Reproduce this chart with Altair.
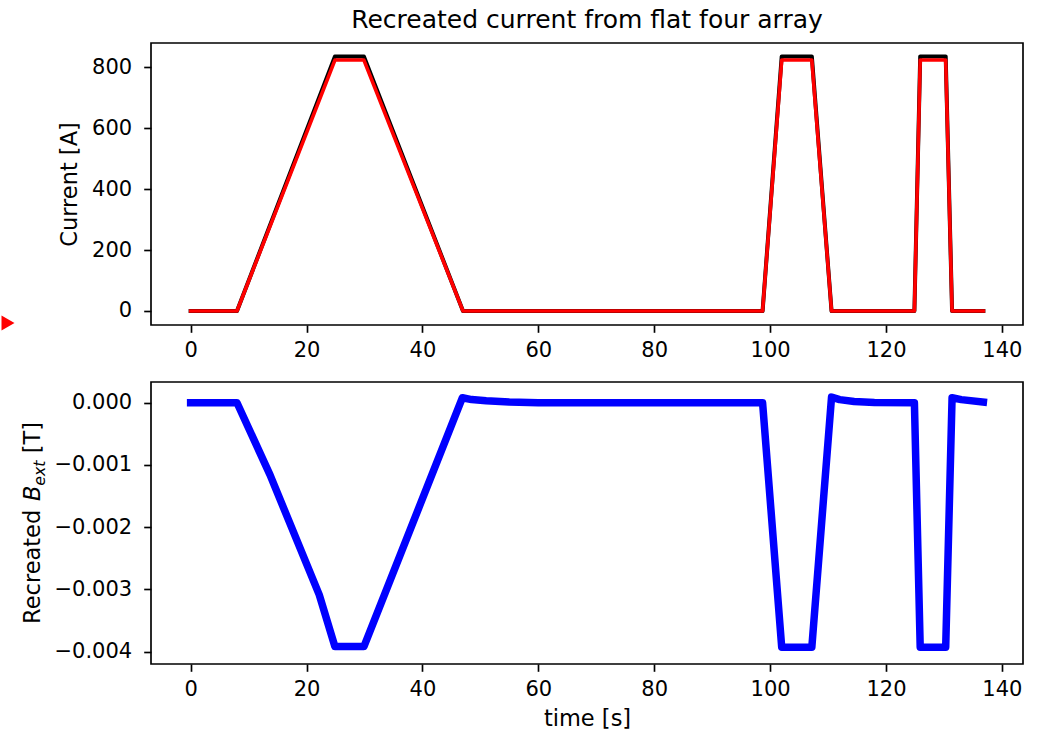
import altair as alt
import pandas as pd

# ---------------- data ----------------
# top panel: coil currents [A]
t_current = [0.0, 8.0, 24.9, 29.9, 47.0, 98.7, 102.0, 107.2, 110.6, 124.9, 125.9, 130.3, 131.4, 136.8]
current_black = [0, 0, 836, 836, 0, 0, 836, 836, 0, 0, 836, 836, 0, 0]
current_red = [0, 0, 824, 824, 0, 0, 824, 824, 0, 0, 824, 824, 0, 0]

# bottom panel: recreated external field [T]
t_field = [0.0, 8.0, 13.7, 22.2, 24.9, 29.9, 46.9, 48.5, 51.0, 55.0, 60.0,
           98.7, 102.0, 107.2, 110.6, 112.0, 114.5, 118.0, 124.9,
           125.9, 130.3, 131.4, 133.0, 136.8]
b_field = [0.0, 0.0, -0.00116, -0.00309, -0.00392, -0.00392, 0.00008, 0.00005, 0.00003, 0.00001, 0.0,
           0.0, -0.00393, -0.00393, 0.00009, 0.00005, 0.00002, 0.000005, 0.0,
           -0.00393, -0.00393, 0.00008, 0.00005, 0.00001]

x_ticks = [0, 20, 40, 60, 80, 100, 120, 140]
current_ticks = [0, 200, 400, 600, 800]
field_ticks = [0.0, -0.001, -0.002, -0.003, -0.004]

title_text = "Recreated current from flat four array"
ylabel_top = "Current [A]"
xlabel = "time [s]"

# ---------------- styling / layout ----------------
FONT = "DejaVu Sans"
W, H = 872, 282
FS = 21        # tick labels
FS_T = 22.5    # axis titles

cur_df = pd.DataFrame({"t": t_current, "black": current_black, "red": current_red})
field_df = pd.DataFrame({"t": t_field, "B": b_field})
one = pd.DataFrame({"k": [0]})

xscale = alt.Scale(domain=[-6.84, 143.64], nice=False, zero=False)

black = alt.Chart(cur_df).mark_line(
    color="black", strokeWidth=4.0, strokeCap="square", strokeJoin="round"
).encode(
    x=alt.X("t:Q", scale=xscale, axis=alt.Axis(values=x_ticks, title=None, format="d")),
    y=alt.Y("black:Q", scale=alt.Scale(domain=[-46, 880], nice=False, zero=False),
            axis=alt.Axis(values=current_ticks, title=ylabel_top, titlePadding=10, format="d")),
)
red = alt.Chart(cur_df).mark_line(
    color="#ff0000", strokeWidth=3.6, strokeCap="square", strokeJoin="round"
).encode(x="t:Q", y="red:Q")

# small red arrow-head marker at the far left edge of the figure
arrow = alt.Chart(one).mark_point(
    shape="M-1,-1.15L1,0L-1,1.15Z", filled=True, color="#ff0000", opacity=1, size=169, strokeWidth=0
).encode(x=alt.value(-143.0), y=alt.value(280))

top = alt.layer(black, red, arrow).properties(
    width=W, height=H,
    title=alt.TitleParams(title_text, font=FONT, fontSize=25, fontWeight="normal", color="black",
                          anchor="middle", frame="group", baseline="alphabetic", offset=-10),
)

blue = alt.Chart(field_df).mark_line(
    color="#0000ff", strokeWidth=7.5, strokeCap="square", strokeJoin="round"
).encode(
    x=alt.X("t:Q", scale=xscale, axis=alt.Axis(values=x_ticks, title=xlabel, format="d", titlePadding=8)),
    y=alt.Y("B:Q", scale=alt.Scale(domain=[-0.0042, 0.000333], nice=False, zero=False),
            axis=alt.Axis(values=field_ticks, format=".3f", title=None)),
)

# rotated y label with italic B and subscript "ext", built from text pieces
w_recreated = 5.459 * FS_T
w_B = 0.686 * FS_T
FS_SUB = 0.7 * FS_T
w_ext = 1.599 * FS_SUB
w_space = 0.318 * FS_T
w_T = 1.391 * FS_T
total = w_recreated + w_B + w_ext + w_space + w_T
y_start = H / 2 + total / 2
x_base = -110.8


def piece(s, x, y, size, italic=False):
    return alt.Chart(one).mark_text(
        text=s, angle=270, align="left", baseline="alphabetic", font=FONT,
        fontSize=size, fontStyle="italic" if italic else "normal", color="black",
    ).encode(x=alt.value(x), y=alt.value(y))


lab1 = piece("Recreated", x_base, y_start, FS_T)
lab2 = piece("B", x_base, y_start - w_recreated, FS_T, italic=True)
lab3 = piece("ext", x_base + 4.8, y_start - w_recreated - w_B, FS_SUB, italic=True)
lab4 = piece("[T]", x_base, y_start - w_recreated - w_B - w_ext - w_space, FS_T)

bottom = alt.layer(blue, lab1, lab2, lab3, lab4).properties(width=W, height=H)

chart = alt.vconcat(top, bottom, spacing=57, bounds="flush").properties(
    padding={"left": 0, "top": 7, "right": 20, "bottom": 5}
).configure(font=FONT).configure_view(
    stroke="black", strokeWidth=1.67
).configure_axis(
    labelFont=FONT, labelFontSize=FS, labelColor="black",
    titleFont=FONT, titleFontSize=FS_T, titleFontWeight="normal", titleColor="black",
    tickColor="black", tickSize=7.3, tickWidth=1.67, labelPadding=7.3,
    domain=False, grid=False, labelFlush=False,
).configure_axisY(labelPadding=12)

chart.save("out.html", embed_options={"renderer": "svg", "actions": False})
